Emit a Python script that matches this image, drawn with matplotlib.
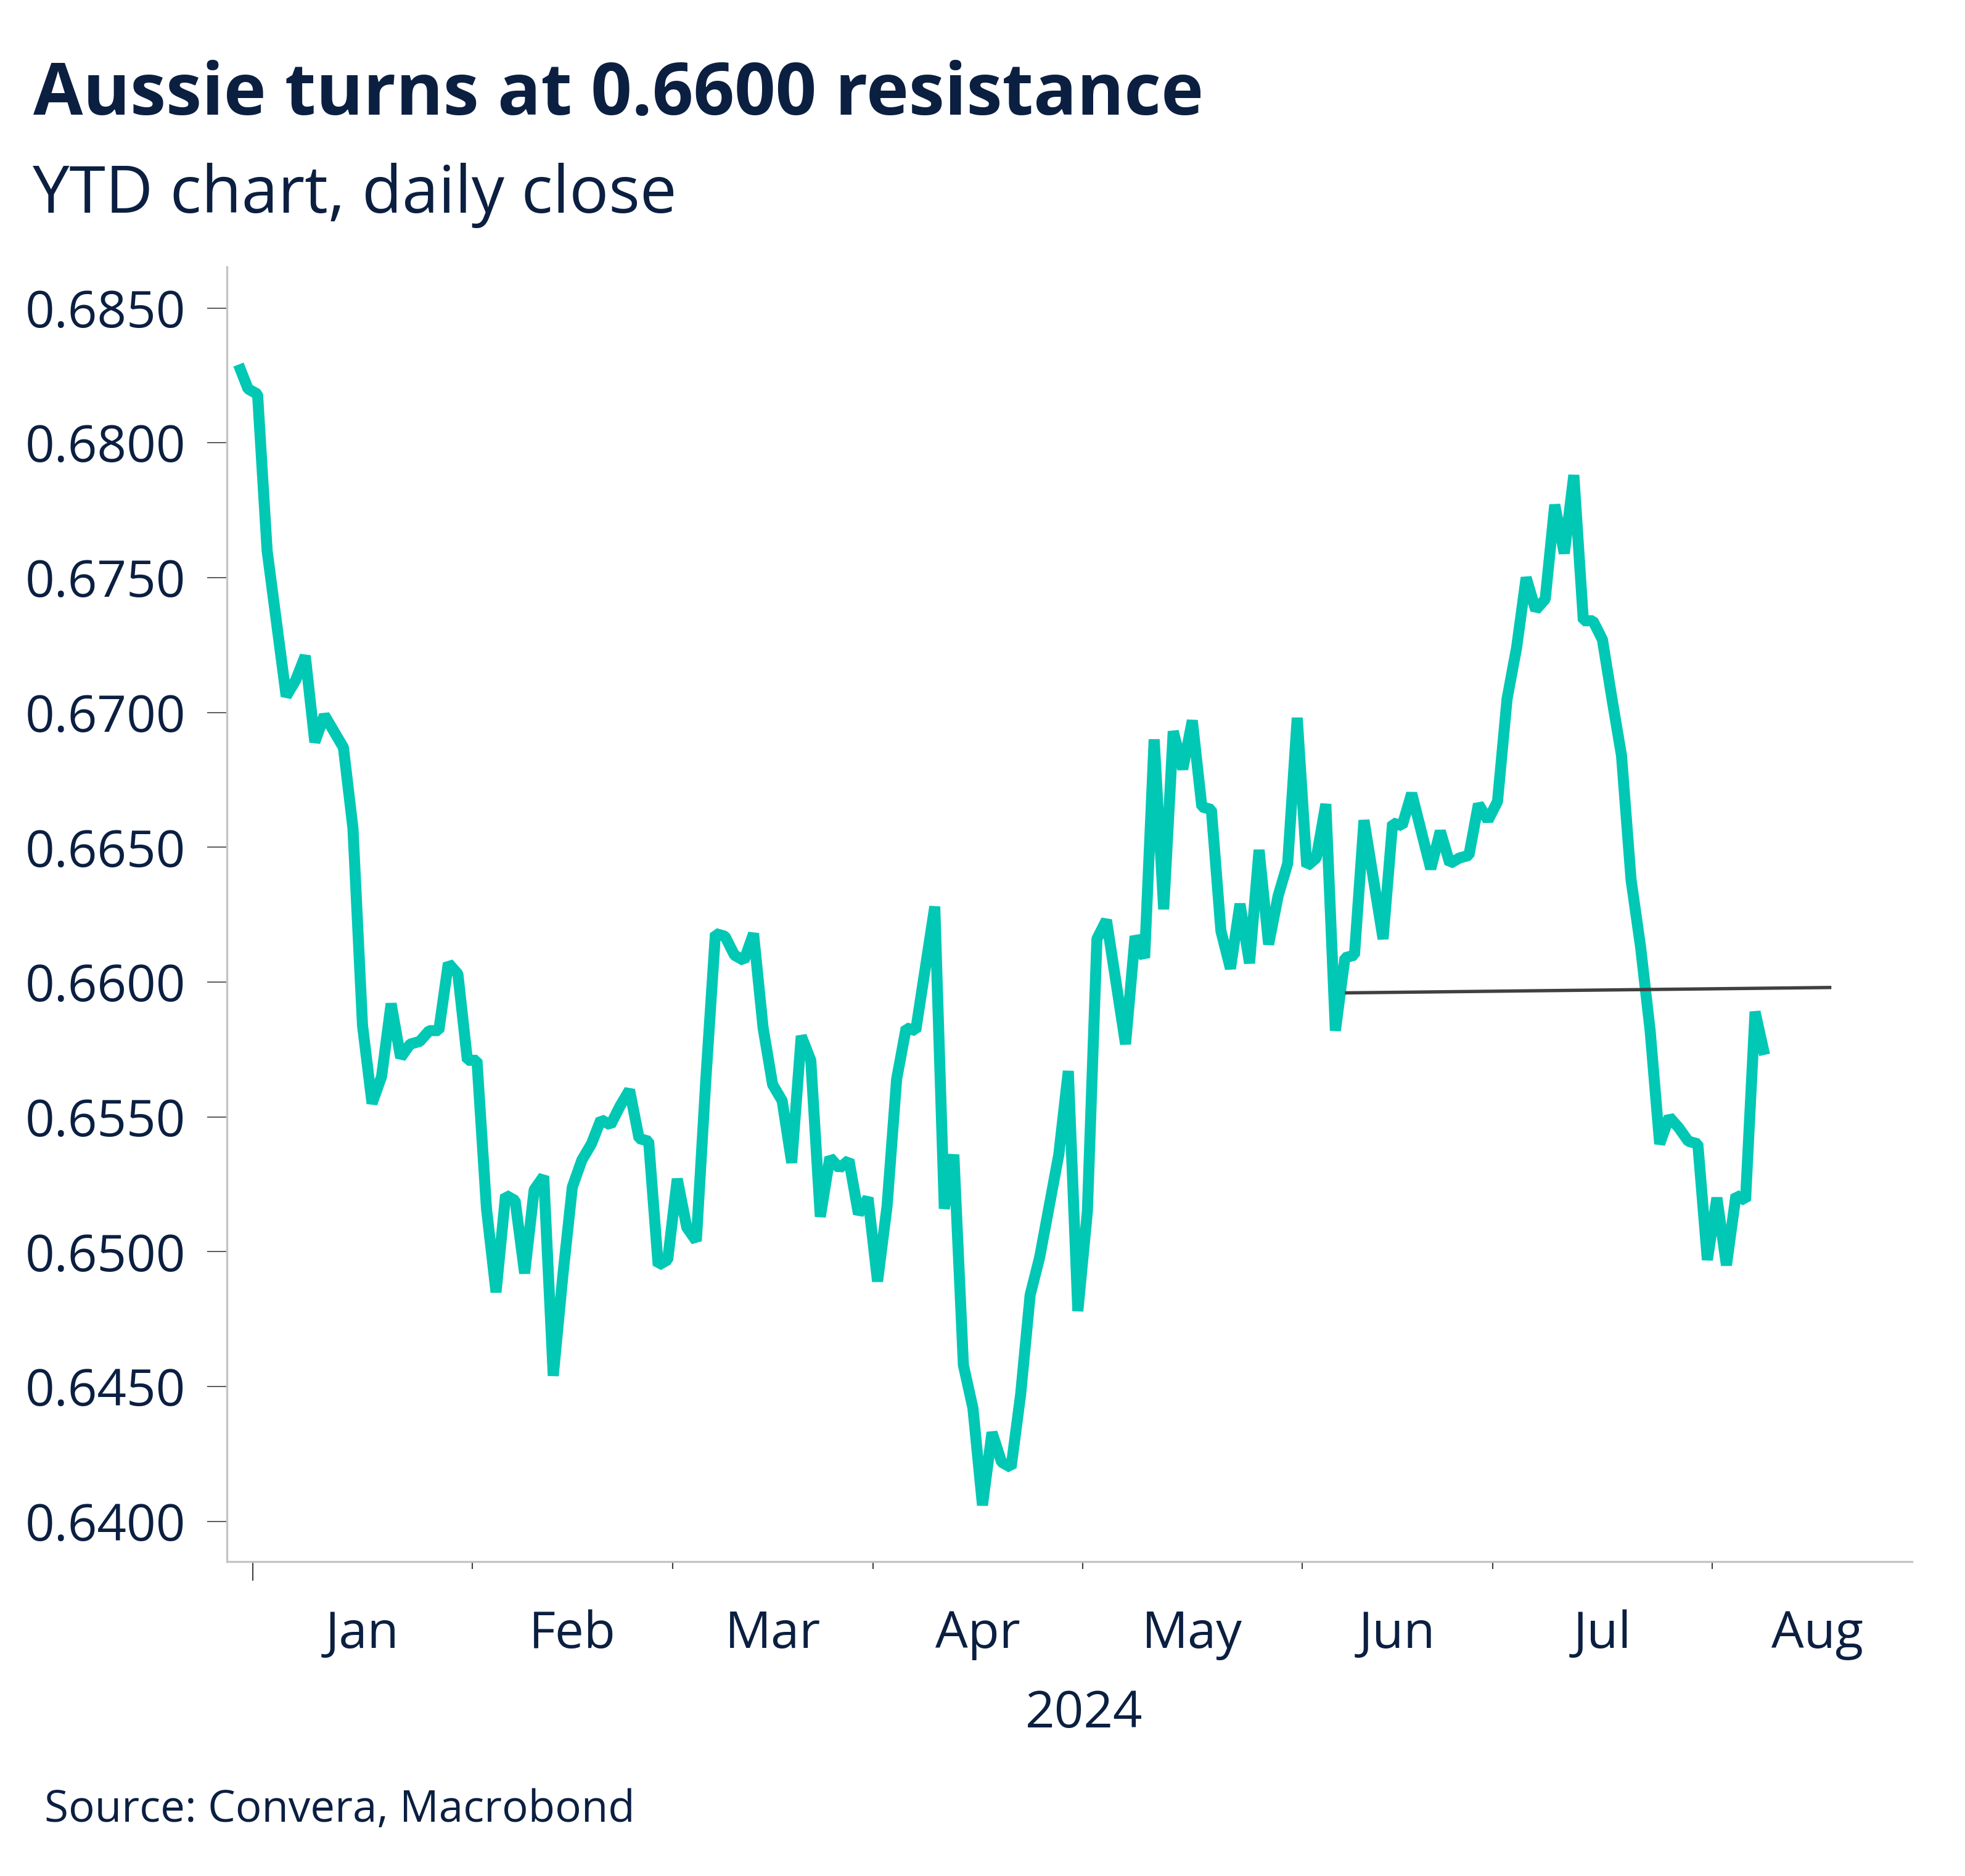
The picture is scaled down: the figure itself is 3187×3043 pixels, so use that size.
import matplotlib
matplotlib.use('Agg')
import matplotlib.pyplot as plt
import matplotlib.transforms as mtransforms
import numpy as np
import pandas as pd

# AUD/USD daily close, 28 Dec 2023 - 8 Aug 2024
dates = pd.bdate_range('2023-12-28', '2024-08-08')
audusd_dec = [0.6829, 0.6820]
audusd_jan = [0.6818, 0.6760, 0.6733, 0.6706, 0.6712, 0.6721, 0.6689, 0.6699, 0.6693, 0.6687,
              0.6657, 0.6584, 0.6555, 0.6565, 0.6592, 0.6572, 0.6577, 0.6578, 0.6582, 0.6582,
              0.6607, 0.6603, 0.6571]
audusd_feb = [0.6571, 0.6516, 0.6485, 0.6521, 0.6519, 0.6492, 0.6523, 0.6528, 0.6454, 0.6491,
              0.6524, 0.6534, 0.6540, 0.6549, 0.6547, 0.6554, 0.6560, 0.6542, 0.6541, 0.6495,
              0.6497]
audusd_mar = [0.6527, 0.6509, 0.6504, 0.6564, 0.6618, 0.6617, 0.6610, 0.6608, 0.6618, 0.6583,
              0.6562, 0.6556, 0.6533, 0.6580, 0.6571, 0.6513, 0.6535, 0.6531, 0.6534, 0.6514,
              0.6520]
audusd_apr = [0.6489, 0.6517, 0.6564, 0.6583, 0.6582, 0.6605, 0.6628, 0.6516, 0.6536, 0.6458,
              0.6442, 0.6406, 0.6433, 0.6422, 0.6420, 0.6447, 0.6484, 0.6498, 0.6517, 0.6536,
              0.6567, 0.6478]
audusd_may = [0.6515, 0.6616, 0.6623, 0.6600, 0.6577, 0.6617, 0.6609, 0.6690, 0.6627, 0.6693,
              0.6679, 0.6697, 0.6665, 0.6664, 0.6619, 0.6605, 0.6629, 0.6607, 0.6649, 0.6614,
              0.6632, 0.6644, 0.6698]
audusd_jun = [0.6643, 0.6646, 0.6666, 0.6582, 0.6609, 0.6610, 0.6660, 0.6638, 0.6616, 0.6659,
              0.6658, 0.6670, 0.6656, 0.6642, 0.6656, 0.6644, 0.6646, 0.6647, 0.6666, 0.6660]
audusd_jul = [0.6667, 0.6705, 0.6724, 0.6750, 0.6738, 0.6742, 0.6777, 0.6759, 0.6788, 0.6734,
              0.6734, 0.6727, 0.6705, 0.6684, 0.6638, 0.6613, 0.6582, 0.6540, 0.6550, 0.6546,
              0.6541, 0.6540, 0.6497]
audusd_aug = [0.6520, 0.6495, 0.6521, 0.6519, 0.6589, 0.6573]
audusd = (audusd_dec + audusd_jan + audusd_feb + audusd_mar + audusd_apr
          + audusd_may + audusd_jun + audusd_jul + audusd_aug)

# hand drawn resistance line
resistance_dates = ['2024-06-07', '2024-08-19']
resistance_levels = [0.6596, 0.6598]

month_names = ['Jan', 'Feb', 'Mar', 'Apr', 'May', 'Jun', 'Jul', 'Aug']
ytick_vals = [0.6400, 0.6450, 0.6500, 0.6550, 0.6600, 0.6650, 0.6700, 0.6750, 0.6800, 0.6850]

navy = '#0B1F41'
teal = '#00C8B4'
plt.rcParams['font.family'] = ['Open Sans', 'DejaVu Sans']

# business-day axis: point k sits in the middle of its day slot
ext = pd.bdate_range(dates[0], '2024-09-30')
x = np.arange(len(dates))
firsts = [np.where((ext.year == 2024) & (ext.month == m))[0][0] for m in range(1, 10)]
bounds = np.array(firsts) - 0.5
mids = (bounds[:-1] + bounds[1:]) / 2
res_x = [ext.get_loc(pd.Timestamp(d)) for d in resistance_dates]

fig = plt.figure(figsize=(3187 / 300, 3043 / 300), dpi=300)
ax = fig.add_axes([0.1155, 0.1676, 0.8575, 0.6901])

ax.plot(x, audusd, color=teal, lw=4.3, solid_joinstyle='bevel', solid_capstyle='butt')
ax.plot(res_x, resistance_levels, color='#404040', lw=1.3, solid_capstyle='butt')

ax.set_xlim(-1.21, 175.45)
ax.set_ylim(0.63851, 0.68652)

for s in ['top', 'right']:
    ax.spines[s].set_visible(False)
for s in ['left', 'bottom']:
    ax.spines[s].set_color('#C4C4C4')
    ax.spines[s].set_linewidth(0.8)

ax.set_yticks(ytick_vals)
ax.set_yticklabels(['{:.4f}'.format(v) for v in ytick_vals])
ax.tick_params(axis='y', length=7.7, width=0.4, color='#404040', pad=8.4,
               labelsize=20, labelcolor=navy)

ax.set_xticks(bounds[:8])
ax.set_xticklabels([''] * 8)
ax.tick_params(axis='x', length=2.9, width=0.5, color='#404040')
ax.xaxis.get_major_ticks()[0].tick1line.set_markersize(7.4)

trans = mtransforms.blended_transform_factory(ax.transData, ax.transAxes)
for m, name in zip(mids, month_names):
    ax.text(m, -0.0667, name, transform=trans, ha='center', va='baseline',
            fontsize=20, color=navy)
ax.text(0.5086, -0.1281, '2024', transform=ax.transAxes, ha='center', va='baseline',
        fontsize=20, color=navy)

fig.text(0.0170, 1 - 186 / 3043, 'Aussie turns at 0.6600 resistance', fontsize=28,
         fontweight='bold', color=navy, va='baseline')
fig.text(0.0165, 1 - 345 / 3043, 'YTD chart, daily close', fontsize=25.5,
         color=navy, va='baseline')
fig.text(0.0225, 1 - 2955 / 3043, 'Source: Convera, Macrobond', fontsize=17,
         color=navy, va='baseline')

fig.savefig('out.png', dpi=300)
